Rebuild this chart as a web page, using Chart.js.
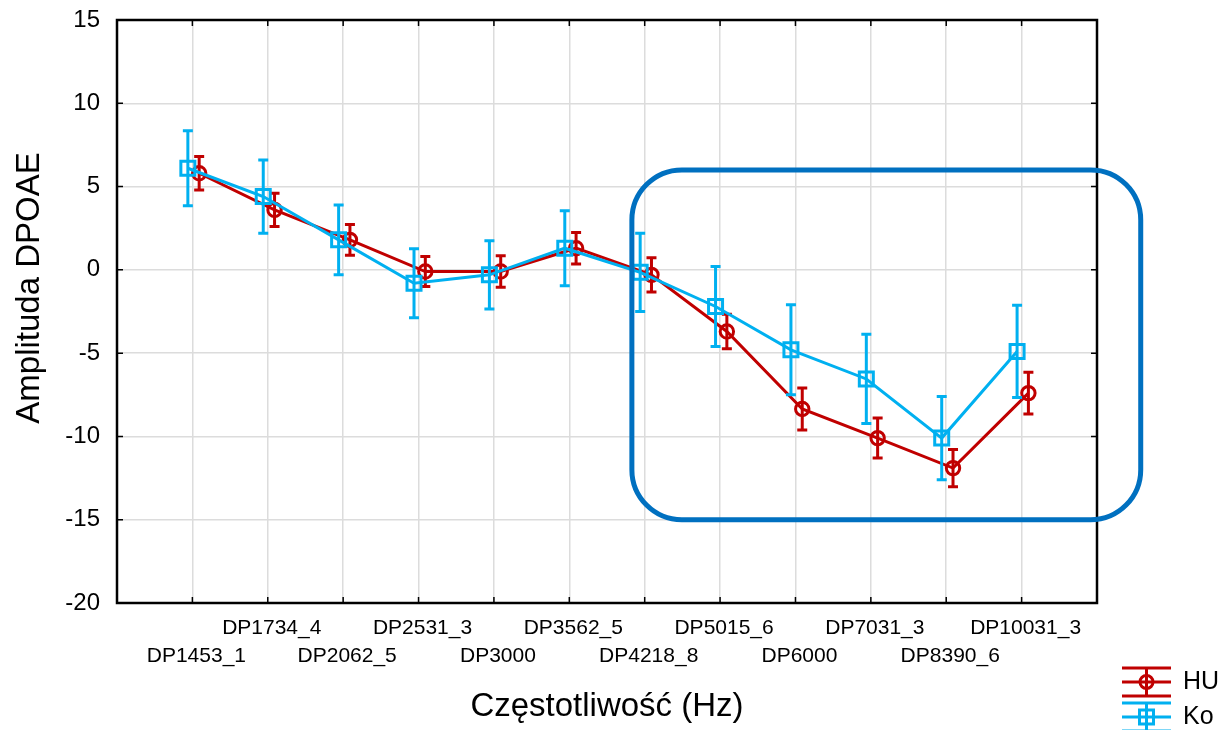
<!DOCTYPE html>
<html>
<head>
<meta charset="utf-8">
<script src="https://cdn.jsdelivr.net/npm/chart.js@4.4.0/dist/chart.umd.min.js"></script>
<style>
  html, body { margin: 0; padding: 0; background: #fff; }
  #wrap { width: 1223px; height: 730px; }
</style>
</head>
<body>
<div id="wrap"><canvas id="dpoae-chart" width="1223" height="730"></canvas></div>
<script>
// frequency categories, plotted at x = 1..12
const frequencies = ['DP1453_1', 'DP1734_4', 'DP2062_5', 'DP2531_3', 'DP3000', 'DP3562_5',
                     'DP4218_8', 'DP5015_6', 'DP6000', 'DP7031_3', 'DP8390_6', 'DP10031_3'];

// HU group: mean amplitude and half length of the error bar
const huMeans  = [5.8, 3.6, 1.8, -0.1, -0.1, 1.3, -0.3, -3.7, -8.35, -10.1, -11.9, -7.4];
const huErrors = [1.0, 1.0, 0.92, 0.9, 0.95, 0.95, 1.03, 1.04, 1.26, 1.2, 1.12, 1.25];

// Ko group
const koMeans  = [6.1, 4.4, 1.8, -0.8, -0.3, 1.3, -0.15, -2.2, -4.8, -6.55, -10.1, -4.9];
const koErrors = [2.25, 2.2, 2.1, 2.07, 2.05, 2.25, 2.35, 2.4, 2.7, 2.68, 2.5, 2.77];

// y axis ticks
const yTicks = [-20, -15, -10, -5, 0, 5, 10, 15];

// highlighted region: x from, x to, y from, y to (axis units)
const highlightBox = [6.83, 13.58, -15, 6];

const RED = '#C00000';
const BLUE = '#00B0F0';
const FONT = 'Liberation Sans, Arial, sans-serif';

// the two groups are shifted a little left / right of the category
const toPoints = (means, shift) => means.map((m, i) => ({x: i + 1 + shift, y: m}));

// draws vertical error bars with caps for each dataset
const errorBars = {
    id: 'errorBars',
    afterDatasetDraw(chart, args) {
        const ds = chart.data.datasets[args.index];
        const {ctx, scales: {x, y}} = chart;
        ctx.save();
        ctx.strokeStyle = ds.borderColor;
        ctx.lineWidth = 3;
        ds.data.forEach((p, i) => {
            const px = x.getPixelForValue(p.x);
            const top = y.getPixelForValue(p.y + ds.errors[i]);
            const bot = y.getPixelForValue(p.y - ds.errors[i]);
            ctx.beginPath();
            ctx.moveTo(px, top); ctx.lineTo(px, bot);
            ctx.moveTo(px - 5, top); ctx.lineTo(px + 5, top);
            ctx.moveTo(px - 5, bot); ctx.lineTo(px + 5, bot);
            ctx.stroke();
        });
        ctx.restore();
    }
};

// black frame with inward ticks, y title, rounded highlight box, legend
const decorations = {
    id: 'decorations',
    afterDraw(chart) {
        const {ctx, chartArea: a, scales: {x, y}} = chart;
        ctx.save();
        ctx.strokeStyle = '#000';
        ctx.lineWidth = 1.5;
        ctx.beginPath();
        yTicks.forEach(v => {
            const py = y.getPixelForValue(v);
            ctx.moveTo(a.left, py); ctx.lineTo(a.left + 6, py);
            ctx.moveTo(a.right, py); ctx.lineTo(a.right - 6, py);
        });
        frequencies.forEach((f, i) => {
            const px = x.getPixelForValue(i + 1);
            ctx.moveTo(px, a.top); ctx.lineTo(px, a.top + 6);
            ctx.moveTo(px, a.bottom); ctx.lineTo(px, a.bottom - 6);
        });
        ctx.stroke();
        ctx.lineWidth = 2.5;
        ctx.strokeRect(a.left, a.top, a.right - a.left, a.bottom - a.top);

        // y axis title, sits a bit above the middle of the plot
        ctx.save();
        ctx.translate(30, 288);
        ctx.rotate(-Math.PI / 2);
        ctx.fillStyle = '#000';
        ctx.font = '33px ' + FONT;
        ctx.textAlign = 'center';
        ctx.textBaseline = 'middle';
        ctx.fillText('Amplituda DPOAE', 0, 0);
        ctx.restore();

        // rounded box around the high frequencies
        const [x0, x1, y0, y1] = highlightBox;
        const bl = x.getPixelForValue(x0), br = x.getPixelForValue(x1);
        const bt = y.getPixelForValue(y1), bb = y.getPixelForValue(y0);
        ctx.strokeStyle = '#0070C0';
        ctx.lineWidth = 5;
        ctx.beginPath();
        ctx.roundRect(bl, bt, br - bl, bb - bt, 50);
        ctx.stroke();

        // legend, bottom right
        const lx = 1122, lw = 49;
        chart.data.datasets.forEach((ds, k) => {
            const cy = 682 + k * 35;
            ctx.strokeStyle = ds.borderColor;
            ctx.lineWidth = 3;
            ctx.beginPath();
            [-14, 0, 14].forEach(d => { ctx.moveTo(lx, cy + d); ctx.lineTo(lx + lw, cy + d); });
            ctx.moveTo(lx + lw / 2, cy - 14); ctx.lineTo(lx + lw / 2, cy + 14);
            ctx.stroke();
            ctx.beginPath();
            if (ds.pointStyle === 'circle') ctx.arc(lx + lw / 2, cy, 6.5, 0, Math.PI * 2);
            else ctx.rect(lx + lw / 2 - 7, cy - 7, 14, 14);
            ctx.stroke();
            ctx.fillStyle = '#000';
            ctx.font = '25px ' + FONT;
            ctx.textBaseline = 'middle';
            ctx.fillText(ds.label, 1183, cy);
        });
        ctx.restore();
    }
};

new Chart(document.getElementById('dpoae-chart').getContext('2d'), {
    type: 'line',
    data: {
        datasets: [
            {
                label: 'HU',
                data: toPoints(huMeans, 0.09),
                errors: huErrors,
                borderColor: RED,
                borderWidth: 3,
                pointStyle: 'circle',
                pointRadius: 6.7,
                pointBorderWidth: 3,
                pointBorderColor: RED,
                pointBackgroundColor: 'rgba(0,0,0,0)',
                order: 1
            },
            {
                label: 'Ko',
                data: toPoints(koMeans, -0.06),
                errors: koErrors,
                borderColor: BLUE,
                borderWidth: 3,
                pointStyle: 'rect',
                pointRadius: 9.9,
                pointBorderWidth: 3,
                pointBorderColor: BLUE,
                pointBackgroundColor: 'rgba(0,0,0,0)',
                order: 0
            }
        ]
    },
    options: {
        responsive: false,
        animation: false,
        layout: {padding: {top: 20, right: 126, left: 0, bottom: 0}},
        plugins: {legend: {display: false}, tooltip: {enabled: false}},
        scales: {
            x: {
                type: 'linear',
                min: 0,
                max: 13,
                afterFit: s => { s.height = 127; s.paddingLeft = 0; s.paddingRight = 0; },
                border: {display: false},
                grid: {
                    color: c => (c.tick.value > 0 && c.tick.value < 13) ? '#dcdcdc' : 'rgba(0,0,0,0)',
                    lineWidth: 1.5,
                    drawTicks: false
                },
                ticks: {
                    stepSize: 1,
                    autoSkip: false,
                    maxRotation: 0,
                    padding: 12,
                    labelOffset: 4,
                    color: '#000',
                    font: {family: FONT, size: 21, lineHeight: 1.3},
                    callback: v => {
                        const name = frequencies[v - 1];
                        if (!name) return '';
                        return (v % 2 === 1) ? ['', name] : [name, ''];
                    }
                },
                title: {
                    display: true,
                    text: 'Częstotliwość (Hz)',
                    color: '#000',
                    font: {family: FONT, size: 33},
                    padding: {top: 0, bottom: 3}
                }
            },
            y: {
                min: -20,
                max: 15,
                afterFit: s => { s.width = 117; s.paddingTop = 0; s.paddingBottom = 0; },
                border: {display: false},
                grid: {color: '#dcdcdc', lineWidth: 1.5, drawTicks: false},
                ticks: {
                    stepSize: 5,
                    padding: 17,
                    color: '#000',
                    font: {family: FONT, size: 24}
                }
            }
        }
    },
    plugins: [errorBars, decorations]
});
</script>
</body>
</html>
